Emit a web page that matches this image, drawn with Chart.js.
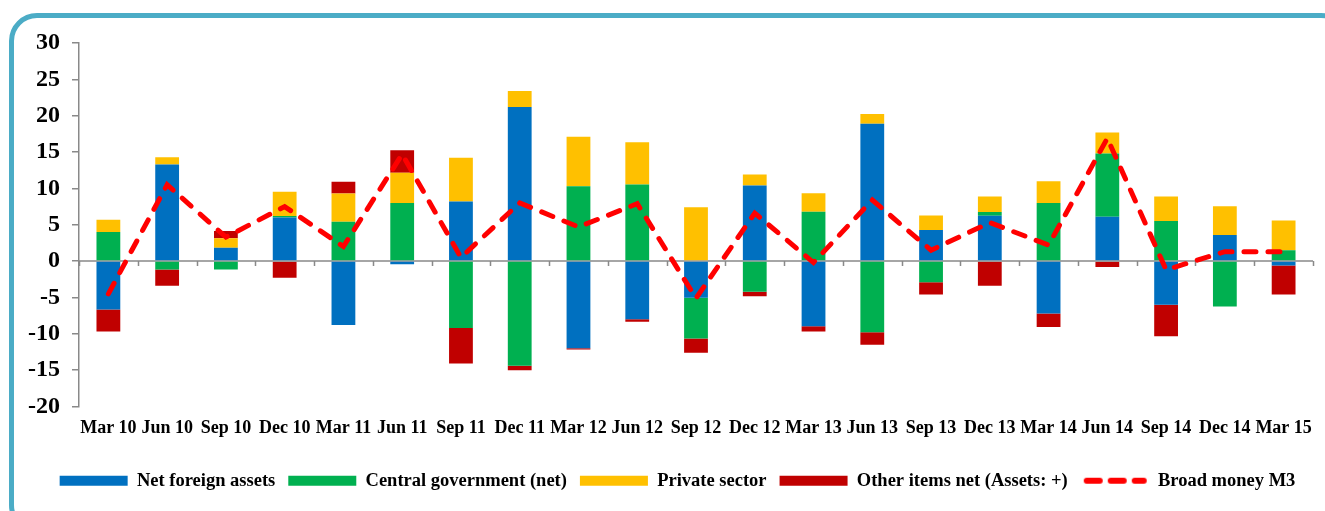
<!DOCTYPE html>
<html>
<head>
<meta charset="utf-8">
<script src="https://cdn.jsdelivr.net/npm/chart.js@4.4.1/dist/chart.umd.min.js"></script>
<style>
    body { margin: 0; background: #fff; }
    .wrap { position: relative; width: 1325px; height: 511px; overflow: hidden; }
    .frame {
        position: absolute; left: 9px; top: 13px; width: 1340px; height: 520px;
        box-sizing: border-box; border: 5px solid #4bacc6; border-radius: 28px;
    }
    #moneyChart { position: absolute; left: 0; top: 0; }
</style>
</head>
<body>
<div class="wrap">
    <div class="frame"></div>
    <canvas id="moneyChart" width="1325" height="511"></canvas>
</div>
<script>
const quarters = ['Mar 10', 'Jun 10', 'Sep 10', 'Dec 10', 'Mar 11', 'Jun 11', 'Sep 11', 'Dec 11', 'Mar 12', 'Jun 12', 'Sep 12',
    'Dec 12', 'Mar 13', 'Jun 13', 'Sep 13', 'Dec 13', 'Mar 14', 'Jun 14', 'Sep 14', 'Dec 14', 'Mar 15'];

const netForeignAssets = [-6.65, 13.3, 1.83, 6.0, -8.8, -0.45, 8.2, 21.2, -12.0, -8.0, -5.05, 10.4, -8.95, 18.9, 4.27, 6.25, -7.2, 6.1, -6.0, 3.6, -0.6];
const centralGov = [4.0, -1.15, -1.15, 0.2, 5.4, 8.0, -9.2, -14.4, 10.3, 10.55, -5.6, -4.2, 6.8, -9.8, -2.9, 0.5, 8.0, 8.7, 5.5, -6.25, 1.5];
const privateSector = [1.7, 1.0, 1.3, 3.35, 3.9, 4.15, 6.0, 2.2, 6.8, 5.8, 7.4, 1.5, 2.55, 1.35, 2.0, 2.15, 3.0, 2.9, 3.4, 3.95, 4.1];
const otherItems = [-3.05, -2.25, 1.0, -2.3, 1.6, 3.1, -4.9, -0.6, -0.15, -0.35, -1.95, -0.65, -0.75, -1.7, -1.7, -3.4, -1.85, -0.8, -4.35, 0, -4.0];
const broadMoney = [-4.5, 10.5, 3.3, 7.5, 2.0, 14.7, 0.5, 8.0, 4.7, 7.9, -5.1, 6.6, -0.2, 8.4, 1.5, 5.3, 2.2, 16.9, -1.2, 1.3, 1.3];

const yTicks = { min: -20, max: 30, step: 5 };

const axisGrey = '#898989';
const serif = 'Liberation Serif, Times New Roman, serif';
const legendBoxWidth = 68;

// zero line + small category ticks, drawn over the bars but under the M3 line
const zeroAxis = {
    id: 'zeroAxis',
    afterDatasetDraw(chart, args) {
        if (args.index !== 3) return;
        const { ctx, chartArea, scales } = chart;
        const y0 = scales.y.getPixelForValue(0);
        const step = scales.x.getPixelForValue(1) - scales.x.getPixelForValue(0);
        ctx.save();
        ctx.strokeStyle = axisGrey;
        ctx.lineWidth = 1.5;
        ctx.beginPath();
        ctx.moveTo(chartArea.left, y0);
        ctx.lineTo(chartArea.right, y0);
        for (let i = 0; i <= quarters.length; i++) {
            const x = Math.round(scales.x.getPixelForValue(i) - step / 2) + 0.5;
            ctx.moveTo(x, y0);
            ctx.lineTo(x, y0 + 5);
        }
        ctx.stroke();
        ctx.restore();
    }
};

// legend row sits a little right of the canvas centre in the original
const legendShift = {
    id: 'legendShift',
    afterLayout(chart) {
        chart.legend.left = 42;
    }
};

// dashed swatch for the M3 legend entry
function dashSwatch() {
    const c = document.createElement('canvas');
    c.width = legendBoxWidth;
    c.height = 10;
    const g = c.getContext('2d');
    g.strokeStyle = '#ff0000';
    g.lineWidth = 6;
    g.lineCap = 'round';
    g.setLineDash([13, 11]);
    g.beginPath();
    g.moveTo(6, 5);
    g.lineTo(63, 5);
    g.stroke();
    return c;
}

function barSet(label, data, color) {
    return {
        type: 'bar',
        label: label,
        data: data,
        backgroundColor: color,
        borderColor: color,
        borderWidth: 0,
        stack: 'parts',
        order: 1,
        pointStyle: 'rect',
        categoryPercentage: 1,
        barPercentage: 0.405
    };
}

const ctx = document.getElementById('moneyChart').getContext('2d');

new Chart(ctx, {
    data: {
        labels: quarters,
        datasets: [
            barSet('Net foreign assets', netForeignAssets, '#0070c0'),
            barSet('Central government (net)', centralGov, '#00b050'),
            barSet('Private sector', privateSector, '#ffc000'),
            barSet('Other items net (Assets: +)', otherItems, '#c00000'),
            {
                type: 'line',
                label: 'Broad money M3',
                data: broadMoney,
                borderColor: '#ff0000',
                backgroundColor: '#ff0000',
                borderWidth: 5,
                borderDash: [12, 12],
                borderCapStyle: 'round',
                pointRadius: 0,
                tension: 0,
                stack: 'm3',
                order: 0,
                pointStyle: dashSwatch()
            }
        ]
    },
    options: {
        responsive: false,
        animation: false,
        layout: { padding: { left: 0, right: 12, top: 43, bottom: 11 } },
        plugins: {
            tooltip: { enabled: false },
            legend: {
                position: 'bottom',
                align: 'center',
                labels: {
                    usePointStyle: true,
                    pointStyleWidth: legendBoxWidth,
                    boxHeight: 10,
                    padding: 13,
                    color: '#000',
                    font: { family: serif, size: 18.5, weight: 'bold' },
                    sort: (a, b) => a.datasetIndex - b.datasetIndex
                }
            }
        },
        scales: {
            x: {
                stacked: true,
                grid: { display: false },
                border: { display: false },
                ticks: {
                    autoSkip: false,
                    maxRotation: 0,
                    padding: 3,
                    color: '#000',
                    font: { family: serif, size: 18, weight: 'bold' }
                },
                afterFit: (scale) => { scale.height = 52; }
            },
            y: {
                stacked: true,
                min: yTicks.min,
                max: yTicks.max,
                grid: { drawOnChartArea: false, color: axisGrey, tickLength: 7, lineWidth: 1.5 },
                border: { color: axisGrey, width: 1.5 },
                ticks: {
                    stepSize: yTicks.step,
                    padding: 12,
                    color: '#000',
                    font: { family: serif, size: 24, weight: 'bold' }
                },
                afterFit: (scale) => { scale.width = 79; }
            }
        }
    },
    plugins: [zeroAxis, legendShift]
});
</script>
</body>
</html>
